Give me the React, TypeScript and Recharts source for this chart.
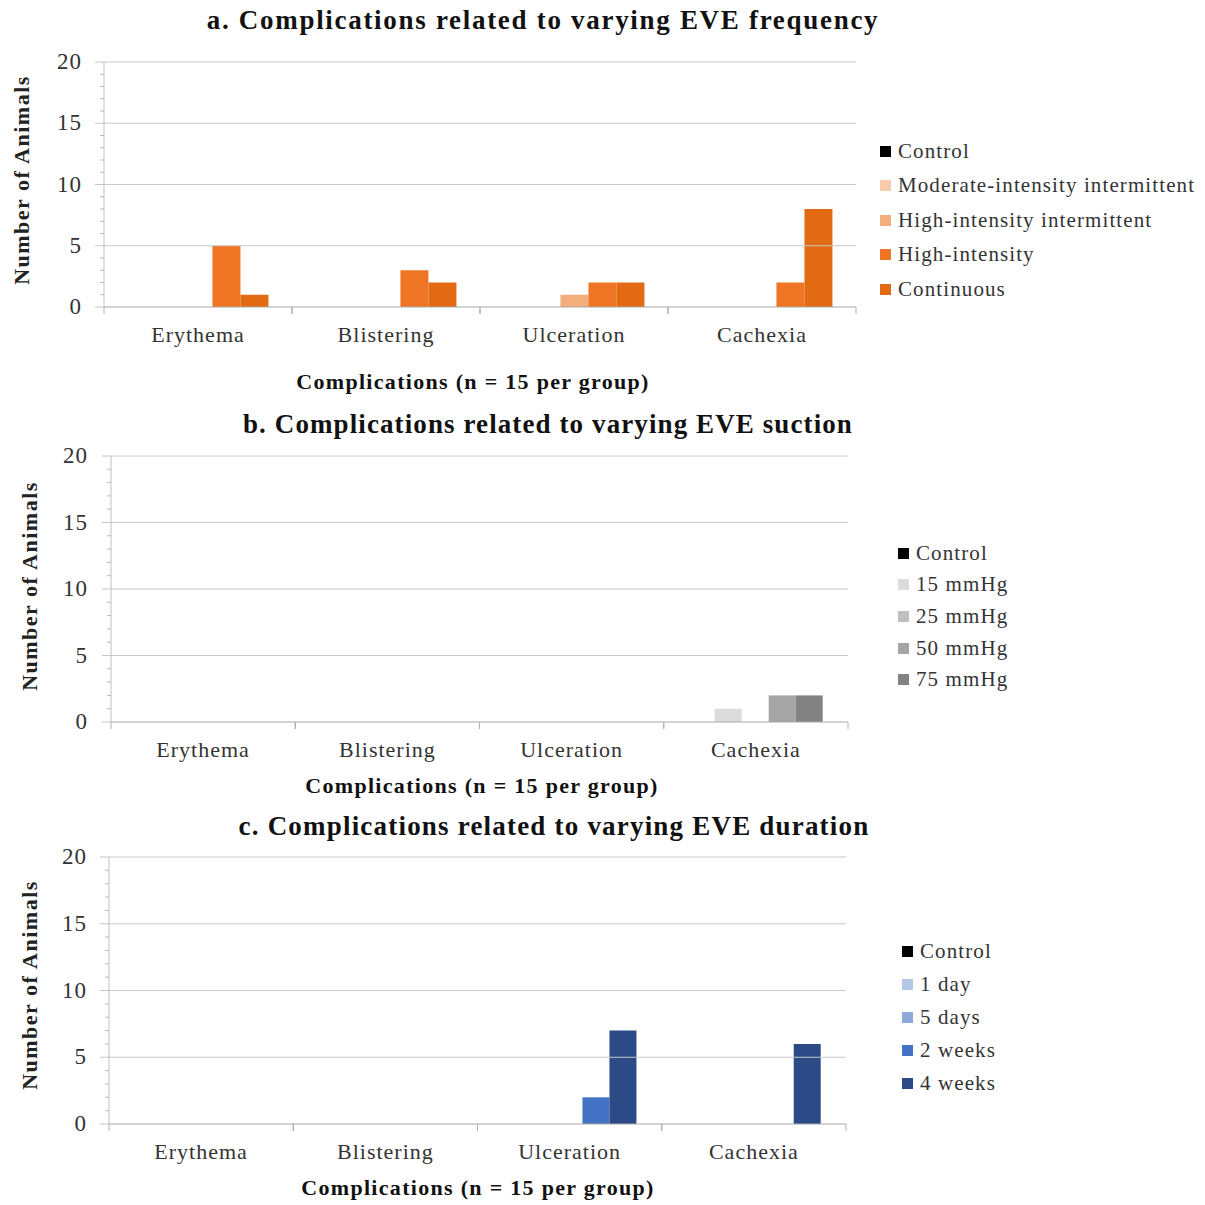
import React from 'react';
import { Bar, BarChart, ReferenceLine, XAxis, YAxis } from 'recharts';

const categories = ['Erythema', 'Blistering', 'Ulceration', 'Cachexia'];
const yTicks = [0, 1, 2, 3, 4, 5, 6, 7, 8, 9, 10, 11, 12, 13, 14, 15, 16, 17, 18, 19, 20];
const gridValues = [5, 10, 15, 20];

// a. frequency groups
const freqNames = ['Control', 'Moderate-intensity intermittent', 'High-intensity intermittent', 'High-intensity', 'Continuous'];
const freqColors = ['#000000', '#f8cbad', '#f4ad7c', '#ef7423', '#e26a12'];
const freqControl = [0, 0, 0, 0];
const freqModerate = [0, 0, 0, 0];
const freqHighIntermittent = [0, 0, 1, 0];
const freqHighIntensity = [5, 3, 2, 2];
const freqContinuous = [1, 2, 2, 8];

// b. suction groups
const suctionNames = ['Control', '15 mmHg', '25 mmHg', '50 mmHg', '75 mmHg'];
const suctionColors = ['#000000', '#dcdcdc', '#c0c0c0', '#a5a5a5', '#828282'];
const suctionControl = [0, 0, 0, 0];
const suction15 = [0, 0, 0, 1];
const suction25 = [0, 0, 0, 0];
const suction50 = [0, 0, 0, 2];
const suction75 = [0, 0, 0, 2];

// c. duration groups
const durationNames = ['Control', '1 day', '5 days', '2 weeks', '4 weeks'];
const durationColors = ['#000000', '#b4c7e7', '#8eaadb', '#4472c4', '#2b4a86'];
const durationControl = [0, 0, 0, 0];
const duration1d = [0, 0, 0, 0];
const duration5d = [0, 0, 0, 0];
const duration2w = [0, 0, 2, 0];
const duration4w = [0, 0, 7, 6];

const buildRows = (series: number[][]) =>
  categories.map((name, i) => {
    const row: any = { name };
    series.forEach((s, k) => (row['s' + k] = s[i]));
    return row;
  });

const SERIF = '"Liberation Serif", "Times New Roman", serif';
const W = 1205;

interface PanelLayout {
  plotLeft: number;
  plotRight: number;
  plotTop: number;
  plotBottom: number;
  titleX: number;
  titleY: number;
  titleSpacing: number;
  xTitleX: number;
  xTitleY: number;
  yTitleX: number;
  yTitleY: number;
  legendX: number;
  legendY: number;
  legendStep: number;
  tickGap: number;
}

interface PanelProps {
  title: string;
  names: string[];
  colors: string[];
  series: number[][];
  layout: PanelLayout;
}

const Text: React.FC<{ x: number; y: number; size: number; bold?: boolean; spacing?: number; children: React.ReactNode; color?: string }> = ({
  x,
  y,
  size,
  bold,
  spacing = 0,
  children,
  color = '#111',
}) => (
  <div
    style={{
      position: 'absolute',
      left: x,
      top: y - size * 0.6,
      lineHeight: `${size * 1.2}px`,
      fontSize: size,
      fontFamily: SERIF,
      fontWeight: bold ? 'bold' : 'normal',
      letterSpacing: spacing,
      color,
      whiteSpace: 'nowrap',
      transform: 'translateX(-50%)',
    }}
  >
    {children}
  </div>
);

const Panel: React.FC<PanelProps> = ({ title, names, colors, series, layout }) => {
  const L = layout;
  const band = (L.plotRight - L.plotLeft) / categories.length;
  const rows = buildRows(series);

  const YTick = (props: any) => {
    const { x, y, payload } = props;
    const major = payload.value % 5 === 0;
    return (
      <g>
        <line x1={x - (major ? 9 : 4)} x2={x} y1={y} y2={y} stroke={major ? '#c4c4c4' : '#b8b8b8'} />
        {major && (
          <text
            x={x - L.tickGap}
            y={y}
            dy={7}
            textAnchor="end"
            fontSize={23}
            fontFamily={SERIF}
            fill="#333"
            style={{ letterSpacing: 1 }}
          >
            {payload.value}
          </text>
        )}
      </g>
    );
  };

  const XTick = (props: any) => {
    const { x, y, payload } = props;
    return (
      <g>
        <line x1={x - band / 2} x2={x - band / 2} y1={y} y2={y + 7} stroke="#b0b0b0" />
        <line x1={x + band / 2} x2={x + band / 2} y1={y} y2={y + 7} stroke="#b0b0b0" />
        <text
          x={x}
          y={y + 35}
          textAnchor="middle"
          fontSize={22}
          fontFamily={SERIF}
          fill="#333"
          style={{ letterSpacing: 1 }}
        >
          {payload.value}
        </text>
      </g>
    );
  };

  return (
    <>
      <div style={{ position: 'absolute', left: 0, top: 0 }}>
        <BarChart
          width={W}
          height={W}
          data={rows}
          barCategoryGap="13%"
          barGap={0}
          margin={{ top: L.plotTop, left: L.plotLeft - 60, right: W - L.plotRight, bottom: W - L.plotBottom - 40 }}
        >
          {gridValues.map((v) => (
            <ReferenceLine key={v} y={v} stroke="#c8c8c8" strokeWidth={1} />
          ))}
          <XAxis
            dataKey="name"
            height={40}
            tickSize={0}
            tickMargin={0}
            tick={<XTick />}
            stroke="#a8a8a8"
            interval={0}
          />
          <YAxis
            width={60}
            domain={[0, 20]}
            ticks={yTicks}
            interval={0}
            tickSize={0}
            tickMargin={0}
            tick={<YTick />}
            stroke="#c0c0c0"
          />
          {names.map((n, k) => (
            <Bar key={n} dataKey={'s' + k} name={n} fill={colors[k]} isAnimationActive={false} />
          ))}
        </BarChart>
      </div>
      <Text x={L.titleX} y={L.titleY} size={27} bold spacing={L.titleSpacing}>
        {title}
      </Text>
      <Text x={L.xTitleX} y={L.xTitleY} size={22} bold spacing={1.3}>
        Complications (n = 15 per group)
      </Text>
      <div
        style={{
          position: 'absolute',
          left: L.yTitleX,
          top: L.yTitleY,
          transform: 'translate(-50%, -50%) rotate(-90deg)',
          fontFamily: SERIF,
          fontWeight: 'bold',
          fontSize: 22,
          letterSpacing: 1.5,
          whiteSpace: 'nowrap',
          color: '#222',
        }}
      >
        Number of Animals
      </div>
      {names.map((n, k) => (
        <div
          key={n}
          style={{
            position: 'absolute',
            left: L.legendX,
            top: L.legendY + k * L.legendStep - 12,
            height: 24,
            display: 'flex',
            alignItems: 'center',
            fontFamily: SERIF,
            fontSize: 21,
            letterSpacing: 1.1,
            color: '#333',
            whiteSpace: 'nowrap',
          }}
        >
          <span style={{ display: 'inline-block', width: 11, height: 11, background: colors[k], marginRight: 7 }} />
          {n}
        </div>
      ))}
    </>
  );
};

export default function App() {
  return (
    <div style={{ position: 'absolute', left: 0, top: 0, width: W, height: W, background: '#fff', overflow: 'hidden' }}>
      <Panel
        title="a. Complications related to varying EVE frequency"
        names={freqNames}
        colors={freqColors}
        series={[freqControl, freqModerate, freqHighIntermittent, freqHighIntensity, freqContinuous]}
        layout={{
          plotLeft: 104, plotRight: 856, plotTop: 62, plotBottom: 307,
          titleX: 543, titleY: 20, titleSpacing: 1.7, xTitleX: 473, xTitleY: 382,
          yTitleX: 22, yTitleY: 180, legendX: 880, legendY: 151, legendStep: 34.5, tickGap: 22,
        }}
      />
      <Panel
        title="b. Complications related to varying EVE suction"
        names={suctionNames}
        colors={suctionColors}
        series={[suctionControl, suction15, suction25, suction50, suction75]}
        layout={{
          plotLeft: 111, plotRight: 848, plotTop: 456, plotBottom: 722,
          titleX: 548, titleY: 424, titleSpacing: 1.1, xTitleX: 482, xTitleY: 786,
          yTitleX: 30, yTitleY: 586, legendX: 898, legendY: 553, legendStep: 31.7, tickGap: 23,
        }}
      />
      <Panel
        title="c. Complications related to varying EVE duration"
        names={durationNames}
        colors={durationColors}
        series={[durationControl, duration1d, duration5d, duration2w, duration4w]}
        layout={{
          plotLeft: 109, plotRight: 846, plotTop: 857, plotBottom: 1124,
          titleX: 554, titleY: 826, titleSpacing: 1.2, xTitleX: 478, xTitleY: 1188,
          yTitleX: 30, yTitleY: 985, legendX: 902, legendY: 951, legendStep: 33.2, tickGap: 22,
        }}
      />
    </div>
  );
}
